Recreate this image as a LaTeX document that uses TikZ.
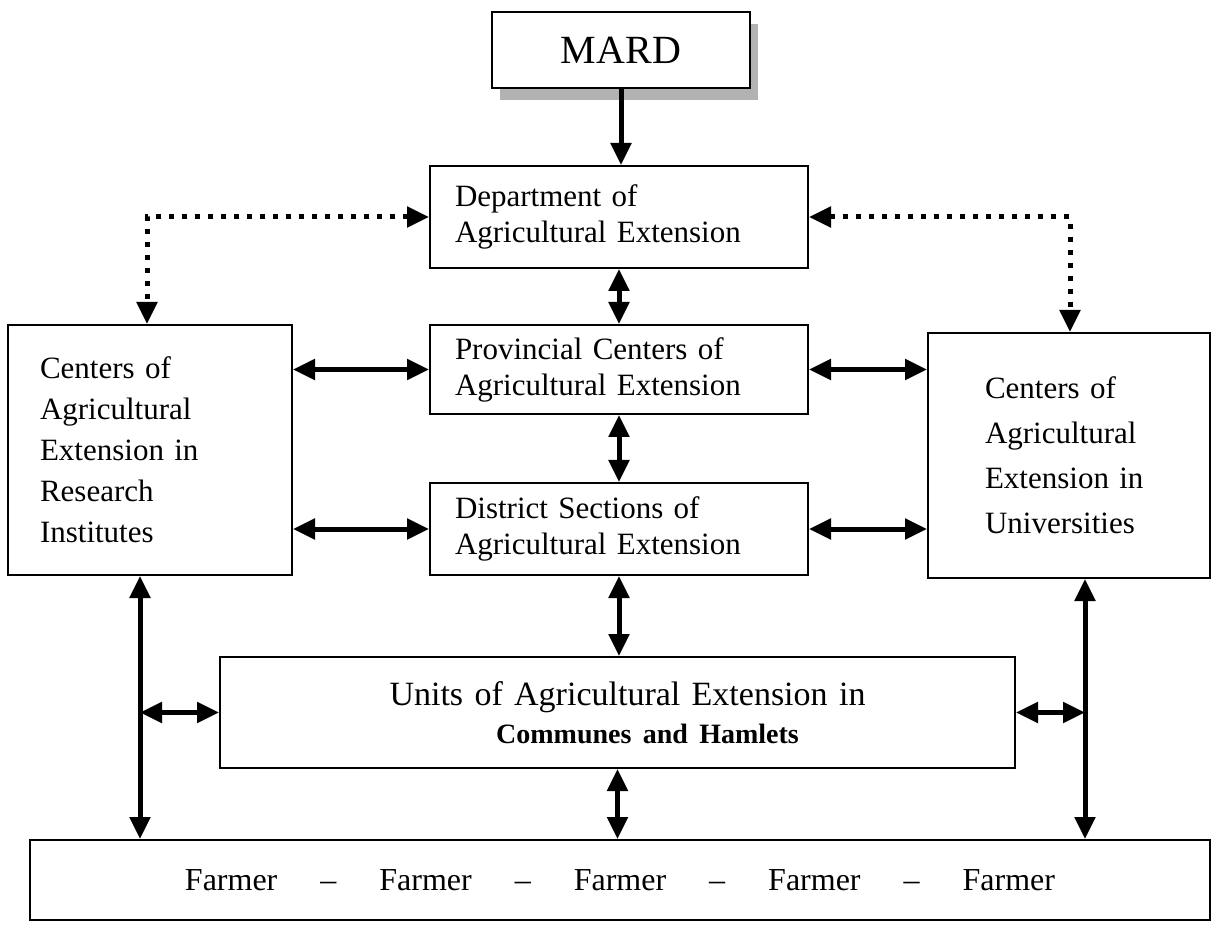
\documentclass[tikz,border=0pt]{standalone}
\usepackage{fontspec}
\setmainfont{Liberation Serif}
\usetikzlibrary{arrows.meta,shadows}
\newcommand\fgap{\hspace{21.5pt}}
\begin{document}
\begin{tikzpicture}[x=0.5pt,y=-0.5pt,
  box/.style={draw,line width=1pt,fill=white,inner ysep=0pt,
    font=\fontsize{15.5}{18}\selectfont},
  tip/.tip={Triangle[length=11pt,width=10pt]},
  biarrow/.style={line width=2.5pt,tip-tip},
  onearrow/.style={line width=2.5pt,-tip},
  dotarrow/.style={line width=2.5pt,dash pattern=on 2.5pt off 4pt,tip-tip}]
\useasboundingbox (0,0) rectangle (1221,930);
% boxes
\node[box,minimum width=129pt,minimum height=38pt,inner xsep=0pt,
  font=\fontsize{20}{24}\selectfont,
  drop shadow={shadow xshift=4pt,shadow yshift=-6pt,fill=gray!60,opacity=1}]
  (mard) at (621,50) {MARD};
\node[box,text width=164pt,inner xsep=12.5pt,align=left,minimum height=51pt]
  (dept) at (619,217) {Department of\\Agricultural Extension};
\node[box,text width=164pt,inner xsep=12.5pt,align=left,minimum height=44.5pt]
  (prov) at (619,369.5) {Provincial Centers of\\Agricultural Extension};
\node[box,text width=164pt,inner xsep=12.5pt,align=left,minimum height=46pt]
  (dist) at (619,529) {District Sections of\\Agricultural Extension};
\node[box,text width=110pt,inner xsep=16pt,align=left,minimum height=125pt,
  font=\fontsize{15.5}{20.5}\selectfont]
  (left) at (150,450) {Centers of\\Agricultural\\Extension in\\Research\\Institutes};
\node[box,text width=84pt,inner xsep=28.5pt,align=left,minimum height=122.5pt,
  font=\fontsize{15.5}{22.5}\selectfont]
  (right) at (1069,455.5) {Centers of\\Agricultural\\Extension in\\Universities};
\node[box,text width=397.5pt,inner xsep=0pt,align=center,minimum height=55.5pt,
  font=\fontsize{17}{20}\selectfont]
  (units) at (617.5,712.5) {\hspace*{10pt}Units of Agricultural Extension in\\[-1pt]
  {\fontsize{14}{17}\selectfont\bfseries\hspace*{30pt}Communes and Hamlets}};
\node[box,minimum width=590pt,minimum height=40pt,inner xsep=0pt,
  font=\fontsize{16}{19}\selectfont]
  (farm) at (620,880) {Farmer\fgap–\fgap Farmer\fgap–\fgap Farmer\fgap–\fgap Farmer\fgap–\fgap Farmer};
% guide coordinates
\coordinate (lv) at (140,0);
\coordinate (rv) at (1085,0);
\coordinate (ld) at (147,0);
\coordinate (rd) at (1070,0);
% connectors
\draw[onearrow] (mard.south) -- (mard.south |- dept.north);
\draw[biarrow] (dept.south) -- (prov.north);
\draw[biarrow] (prov.south) -- (dist.north);
\draw[biarrow] (dist.south) -- (dist.south |- units.north);
\draw[biarrow] (units.south) -- (units.south |- farm.north);
\draw[biarrow] (prov.west -| left.east) -- (prov.west);
\draw[biarrow] (dist.west -| left.east) -- (dist.west);
\draw[biarrow] (prov.east) -- (prov.east -| right.west);
\draw[biarrow] (dist.east) -- (dist.east -| right.west);
\draw[biarrow] (left.south -| lv) -- (farm.north -| lv);
\draw[biarrow] (right.south -| rv) -- (farm.north -| rv);
\draw[biarrow] (units.west) -- (units.west -| lv);
\draw[biarrow] (units.east) -- (units.east -| rv);
\draw[dotarrow] (dept.west) -| (left.north -| ld);
\draw[dotarrow] (dept.east) -| (right.north -| rd);
\end{tikzpicture}
\end{document}
